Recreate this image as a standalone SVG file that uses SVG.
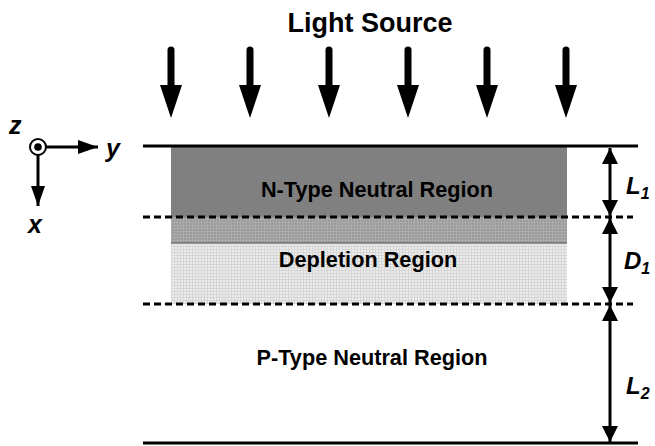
<svg xmlns="http://www.w3.org/2000/svg" width="655" height="446" viewBox="0 0 655 446">
<style>
.t{font-family:"Liberation Sans",Arial,sans-serif;font-weight:bold;fill:#000}
.it{font-family:"Liberation Sans",Arial,sans-serif;font-weight:bold;font-style:italic;fill:#000}
.ln{stroke:#000;stroke-width:3;fill:none}
.dash{stroke:#000;stroke-width:3;stroke-dasharray:7 4;fill:none}
.dim{stroke:#000;stroke-width:3;fill:none;marker-start:url(#dh);marker-end:url(#dh)}
.light{stroke:#000;stroke-width:7;stroke-linecap:round;fill:none}
</style>
<defs>
<marker id="dh" markerUnits="userSpaceOnUse" markerWidth="16" markerHeight="20" viewBox="0 0 16 20" refX="16" refY="10" orient="auto-start-reverse">
<path d="M0,2 L16,10 L0,18 z" fill="#000"/>
</marker>
<marker id="ah" markerUnits="userSpaceOnUse" markerWidth="20" markerHeight="16" viewBox="0 0 20 16" refX="20" refY="8" orient="auto">
<path d="M0,1 L20,8 L0,15 z" fill="#000"/>
</marker>
<pattern id="gdark" width="3" height="3" patternUnits="userSpaceOnUse">
<rect width="3" height="3" fill="#9a9a9a"/>
<path d="M0,0.5 H3 M0.5,0 V3" stroke="#ababab" stroke-width="1"/>
</pattern>
<pattern id="glight" width="3" height="3" patternUnits="userSpaceOnUse">
<rect width="3" height="3" fill="#ececec"/>
<path d="M0,0.5 H3 M0.5,0 V3" stroke="#d6d6d6" stroke-width="1"/>
</pattern>
</defs>

<g id="light-source">
<text class="t" x="370" y="32" font-size="27" text-anchor="middle">Light Source</text>
<g id="light-arrows">
<line class="light" x1="171" y1="50" x2="171" y2="88"/><path d="M160,85 H182 L171,118 z"/>
<line class="light" x1="250" y1="50" x2="250" y2="88"/><path d="M239,85 H261 L250,118 z"/>
<line class="light" x1="329" y1="50" x2="329" y2="88"/><path d="M318,85 H340 L329,118 z"/>
<line class="light" x1="408" y1="50" x2="408" y2="88"/><path d="M397,85 H419 L408,118 z"/>
<line class="light" x1="487" y1="50" x2="487" y2="88"/><path d="M476,85 H498 L487,118 z"/>
<line class="light" x1="566" y1="50" x2="566" y2="88"/><path d="M555,85 H577 L566,118 z"/>
</g>
</g>

<g id="n-region">
<rect x="171" y="147" width="396" height="70" fill="#808080"/>
<text class="t" x="377" y="197" font-size="21.7" text-anchor="middle">N-Type Neutral Region</text>
</g>

<g id="depletion-region">
<rect x="171" y="217" width="396" height="26" fill="url(#gdark)"/>
<rect x="171" y="243" width="396" height="61" fill="url(#glight)"/>
<line x1="171" y1="243" x2="567" y2="243" stroke="#555" stroke-width="1"/>
<text class="t" x="368" y="267" font-size="21.7" text-anchor="middle">Depletion Region</text>
</g>

<g id="p-region">
<text class="t" x="372" y="365" font-size="21.7" text-anchor="middle">P-Type Neutral Region</text>
</g>

<g id="boundaries">
<line class="ln" x1="143" y1="146" x2="638" y2="146"/>
<line class="ln" x1="143" y1="443" x2="638" y2="443"/>
<line class="dash" x1="143" y1="217" x2="633" y2="217"/>
<line class="dash" x1="143" y1="304" x2="633" y2="304"/>
</g>

<g id="connectors">
<line class="dim" x1="610" y1="148" x2="610" y2="216"/>
<line class="dim" x1="610" y1="218" x2="610" y2="303"/>
<line class="dim" x1="610" y1="305" x2="610" y2="442"/>
</g>

<g id="dimension-labels">
<text class="it" x="626" y="194" font-size="24">L<tspan font-size="16" dy="5">1</tspan></text>
<text class="it" x="624" y="269" font-size="24">D<tspan font-size="16" dy="5">1</tspan></text>
<text class="it" x="626" y="394" font-size="24">L<tspan font-size="16" dy="5">2</tspan></text>
</g>

<g id="axes">
<circle cx="38" cy="147" r="8" fill="#fff" stroke="#000" stroke-width="2"/>
<circle cx="38" cy="147" r="3.8" fill="#000"/>
<line x1="46" y1="147" x2="98" y2="147" stroke="#000" stroke-width="3" marker-end="url(#ah)"/>
<line x1="38" y1="155" x2="38" y2="206" stroke="#000" stroke-width="3" marker-end="url(#ah)"/>
<text class="it" x="106" y="157" font-size="25">y</text>
<text class="it" x="9" y="134" font-size="25">z</text>
<text class="it" x="28" y="233" font-size="25">x</text>
</g>
</svg>
